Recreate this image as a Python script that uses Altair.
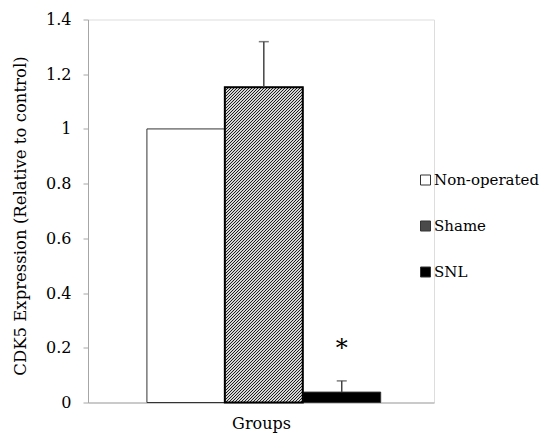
import altair as alt
import pandas as pd

groups = ["Non-operated", "Shame", "SNL"]
means = [1.0, 1.152, 0.038]
errors = [0.0, 0.167, 0.041]
marks = ["", "", "*"]
mark_pos = [None, None, 0.21]

FONT = "DejaVu Serif"
W, H = 346, 383
YMAX = 1.4
PAD_OUTER = 0.72

df = pd.DataFrame({"group": groups, "mean": means, "err": errors})
df["upper"] = df["mean"] + df["err"]
sig_df = pd.DataFrame({"group": groups, "label": marks, "pos": mark_pos}).dropna()

# diagonal hatch for the "Shame" bar, built as a striped linear gradient
band = W / (3 + 2 * PAD_OUTER)
h = means[1] / YMAX * H
r = band / h
s = 1.2
D = s * h * (1 + r * r)
period = 3.0 / D
stops = []
k = 0
while k * period < 1:
    t0 = k * period
    t1 = min(t0 + 0.6 * period, 1)
    t2 = min(t0 + period, 1)
    stops += [
        alt.GradientStop(offset=round(t0, 5), color="#1e1e1e"),
        alt.GradientStop(offset=round(t1, 5), color="#1e1e1e"),
        alt.GradientStop(offset=round(t1, 5), color="#d6d6d6"),
        alt.GradientStop(offset=round(t2, 5), color="#d6d6d6"),
    ]
    k += 1
hatch = alt.LinearGradient(gradient="linear", stops=stops, x1=0, y1=0, x2=s * r, y2=s)

x = alt.X(
    "group:N",
    sort=groups,
    scale=alt.Scale(domain=groups, paddingInner=0, paddingOuter=PAD_OUTER, align=0.525),
    axis=alt.Axis(
        title="Groups", labels=False, ticks=False, domainColor="#a6a6a6",
        titleFont=FONT, titleFontSize=16, titleFontWeight="normal", titleColor="black",
        titleY=13, titleBaseline="top",
    ),
)
y = alt.Y(
    "mean:Q",
    scale=alt.Scale(domain=[0, YMAX], nice=False),
    axis=alt.Axis(
        title="CDK5 Expression (Relative to control)",
        values=[0, 0.2, 0.4, 0.6, 0.8, 1.0, 1.2, 1.4], format=".1~f",
        grid=False, domainColor="#a6a6a6", tickColor="#a6a6a6", tickSize=5,
        labelFont=FONT, labelFontSize=16, labelColor="black", labelPadding=12,
        titleFont=FONT, titleFontSize=16.5, titleFontWeight="normal", titleColor="black",
        titleX=-60, titleY=196, titleAngle=270, titleBaseline="bottom", titleAlign="center",
    ),
)

bars = alt.Chart(df).mark_bar(stroke="#333333", strokeWidth=1).encode(
    x=x,
    y=y,
    fill=alt.Fill(
        "group:N",
        scale=alt.Scale(domain=groups, range=["white", "#4a4a4a", "black"]),
        legend=alt.Legend(
            title=None, orient="none", legendX=330, legendY=153,
            symbolType="square", symbolSize=100, symbolStrokeColor="#333333",
            symbolStrokeWidth=1, labelFont=FONT, labelFontSize=15, labelColor="black",
            labelOffset=1, rowPadding=30, padding=0,
        ),
    ),
)

shame = alt.Chart(df).transform_filter(alt.datum.group == "Shame").mark_bar(
    fill=hatch, stroke="black", strokeWidth=2
).encode(x=x, y="mean:Q")

err_df = df[df["err"] > 0]
rules = alt.Chart(err_df).mark_rule(color="#444444", strokeWidth=1.5).encode(
    x=x, y="mean:Q", y2="upper:Q"
)
caps = alt.Chart(err_df).mark_tick(color="#444444", thickness=1.5, size=10).encode(
    x=x, y="upper:Q"
)
stars = alt.Chart(sig_df).mark_text(font=FONT, fontSize=24, color="black", baseline="middle", dy=4).encode(
    x=x, y="pos:Q", text="label:N"
)

chart = alt.layer(bars, shame, rules, caps, stars).properties(
    width=W, height=H,
    autosize=alt.AutoSizeParams(type="none"),
    padding={"left": 80, "top": 11.5, "right": 105, "bottom": 32.5},
).configure_view(stroke=None).configure(font=FONT)

chart.save("out.html", embed_options={"renderer": "svg", "actions": False})
